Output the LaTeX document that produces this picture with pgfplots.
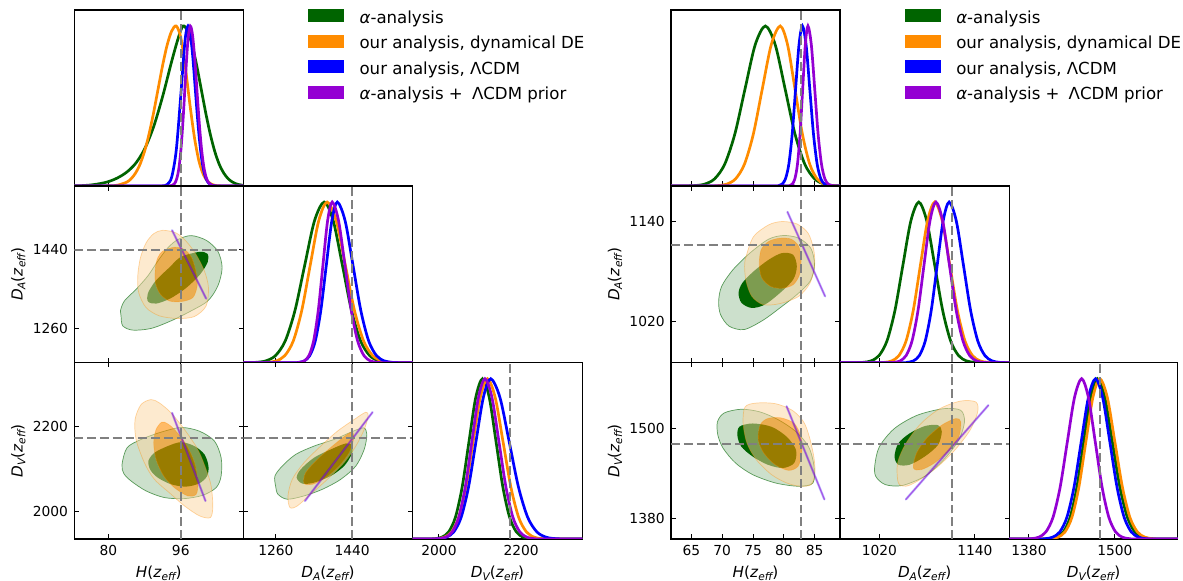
\documentclass[border=0pt]{standalone}
\usepackage{pgfplots}
\pgfplotsset{compat=1.18}
\usepackage{fontspec}
\setmainfont{DejaVu Sans}
\newcommand\f{\fontsize{6.9}{8.3}\selectfont}
\newcommand\fl{\fontsize{7.6}{9}\selectfont}
\newcommand\fleg{\fontsize{8.3}{10}\selectfont}
\newcommand\sub[1]{\raisebox{-1.4pt}{\fontsize{5.3}{6}\selectfont\itshape #1}}
\newcommand\Hlab{\textit{H}(\textit{z}\sub{eff})}
\newcommand\DAlab{\textit{D}\sub{A}(\textit{z}\sub{eff})}
\newcommand\DVlab{\textit{D}\sub{V}(\textit{z}\sub{eff})}
\definecolor{cgreen}{RGB}{0,100,0}
\definecolor{cgreenL}{RGB}{204,224,204}
\definecolor{corange}{RGB}{255,140,0}
\definecolor{corangeL}{RGB}{251,213,160}
\definecolor{cblue}{RGB}{0,0,255}
\definecolor{cpurple}{RGB}{148,0,211}
\definecolor{cgray}{RGB}{128,128,128}
\pgfplotsset{
 base/.style={scale only axis, anchor=south west,
   axis line style={black, line width=0.6pt}, tick align=inside, major tick length=2.4pt,
   every tick/.style={black, line width=0.5pt}, tick label style={font=\f}, label style={font=\fl},
   xticklabel style={inner sep=0pt, anchor=north, yshift=-2.8pt},
   yticklabel style={inner sep=0pt, anchor=east, xshift=-3pt},
   xlabel style={at={(axis description cs:0.5,0)}, anchor=base, yshift=-19.4pt},
   ylabel style={at={(axis description cs:-0.331,0.5)}, anchor=center},
   scaled ticks=false, clip=true},
 diag/.style={base, ymin=0, ymax=1.1, ytick=\empty, xtick pos=left},
 curve/.style={line width=1.35pt, smooth, forget plot, #1},
 ref/.style={cgray, line width=1.0pt, dash pattern=on 4.4pt off 2pt, forget plot},
 outerG/.style={fill=cgreenL, draw=cgreen, draw opacity=0.6, line width=0.35pt, smooth cycle, forget plot},
 innerG/.style={fill=cgreen, draw=none, smooth cycle, forget plot},
 outerO/.style={fill=corangeL, fill opacity=0.5, draw=corange, draw opacity=0.35, line width=0.35pt, smooth cycle, even odd rule, unbounded coords=jump, forget plot},
 innerO/.style={fill=corange, fill opacity=0.6, draw=none, smooth cycle, forget plot},
 lineB/.style={cblue, opacity=0.25, line width=1.2pt, line cap=round, forget plot},
 lineP/.style={cpurple, opacity=0.55, line width=0.6pt, line cap=round, forget plot},
 legaxis/.style={hide axis, scale only axis, anchor=south west, width=84.5pt, height=88pt,
   xmin=0, xmax=1, ymin=0, ymax=1, legend cell align=left,
   legend image code/.code={\fill[##1] (0pt,-1.7pt) rectangle (18pt,4.8pt);},
   legend style={at={(axis description cs:1.385,1.004)}, anchor=north west, draw=none, fill=none,
     inner sep=0pt, outer sep=0pt, font=\fleg, row sep=3.8pt, column sep=7.6pt,
     nodes={inner sep=0pt, text height=6.3pt, text depth=2pt}}},
}
\begin{document}
\begin{tikzpicture}
\path[use as bounding box] (0,0) rectangle (591.5pt,290.5pt);

%================ LEFT TRIANGLE =================
% legend holder
\begin{axis}[legaxis, at={(37.15pt,197.5pt)}]
\addlegendimage{fill=cgreen,draw=none}\addlegendentry{\textit{α}-analysis}
\addlegendimage{fill=corange,draw=none}\addlegendentry{our analysis, dynamical DE}
\addlegendimage{fill=cblue,draw=none}\addlegendentry{our analysis, ΛCDM}
\addlegendimage{fill=cpurple,draw=none}\addlegendentry{\textit{α}-analysis +\hspace{0.55em}ΛCDM prior}
\end{axis}
% L11
\begin{axis}[diag, at={(37.15pt,197.5pt)}, width=84.5pt, height=88pt,
  xmin=72.5, xmax=109.8, xtick={80,96}, xticklabels={}]
\addplot[curve=cgreen] coordinates {(72.5,0.001) (74,0.002) (76,0.006) (78,0.014) (80,0.027) (82,0.05) (84,0.085) (86,0.14) (88,0.23) (90,0.37) (92,0.56) (94,0.78) (95.5,0.93) (96.5,1) (97.5,0.969) (98.5,0.882) (99.5,0.755) (100.5,0.607) (101.5,0.458) (102.5,0.325) (103.5,0.216) (104.5,0.135) (105.5,0.080) (106.5,0.044) (107.5,0.023) (108.5,0.011) (109.8,0.004)};
\addplot[curve=corange] coordinates {(72.5,0) (80,0.001) (82,0.005) (84,0.023) (85,0.044) (86,0.080) (87,0.135) (88,0.216) (89,0.325) (90,0.458) (91,0.607) (92,0.755) (93,0.882) (94,0.969) (95,1) (96,0.929) (97,0.744) (98,0.513) (99,0.306) (100,0.157) (101,0.070) (102,0.027) (103,0.009) (104,0.002) (106,0) (109.8,0)};
\addplot[curve=cblue] coordinates {(72.5,0) (91,0) (92,0.001) (93,0.009) (94,0.056) (95,0.223) (96,0.566) (96.8,0.867) (97.2,0.965) (97.6,1) (98.1,0.952) (98.6,0.823) (99.1,0.644) (99.6,0.458) (100.1,0.295) (100.6,0.172) (101.1,0.091) (101.6,0.044) (102.1,0.019) (102.6,0.008) (103.5,0.001) (105,0) (109.8,0)};
\addplot[curve=cpurple] coordinates {(72.5,0) (93,0) (93.5,0.001) (94.1,0.004) (94.6,0.014) (95.1,0.044) (95.6,0.114) (96.1,0.249) (96.6,0.458) (97.1,0.707) (97.6,0.917) (98.1,1) (98.6,0.942) (99.1,0.788) (99.6,0.585) (100.1,0.386) (100.6,0.226) (101.1,0.117) (101.6,0.054) (102.1,0.022) (102.6,0.008) (103.1,0.0025) (104,0) (109.8,0)};
\addplot[ref] coordinates {(96,0) (96,1.1)};
\end{axis}

% L21
\begin{axis}[base, at={(37.15pt,109.15pt)}, width=84.5pt, height=88.35pt,
  xmin=72.5, xmax=109.8, ymin=1183, ymax=1583, xtick={80,96}, xticklabels={},
  ytick={1260,1440}, yticklabels={1260,1440}, ylabel={\DAlab}]
\addplot[outerG] coordinates {(82.81,1289.0) (83.18,1266.5) (85.39,1256.7) (89.44,1260.5) (93.86,1277.7) (98.28,1300.2) (101.97,1322.8) (104.18,1356.6) (105.13,1397.9) (104.18,1435.4) (101.60,1460.2) (98.28,1470.7) (95.34,1461.7) (93.13,1442.9) (90.92,1412.9) (88.71,1379.1) (86.13,1349.1) (83.55,1322.8) (82.67,1300.2)};
\addplot[innerG] coordinates {(101.89,1429.4) (101.94,1410.5) (100.21,1382.2) (97.18,1352.1) (93.66,1328.2) (90.58,1316.8) (88.78,1321.3) (88.74,1340.1) (90.46,1368.4) (93.49,1398.6) (96.02,1422.5) (100.09,1433.8)};
\addplot[outerO] coordinates {(92.02,1482.7) (94.97,1476.7) (97.18,1457.9) (99.39,1427.9) (101.23,1390.3) (102.11,1352.8) (101.60,1311.5) (99.02,1287.5) (95.34,1283.0) (91.28,1289.0) (88.34,1307.8) (86.72,1341.5) (86.50,1379.1) (87.09,1420.4) (88.34,1454.2) (90.03,1475.2)
 (nan,nan)
 (92.02,1435.4) (94.60,1444.4) (96.81,1439.1) (98.43,1420.4) (99.39,1386.6) (99.61,1356.6) (98.65,1330.3) (96.07,1321.3) (93.49,1322.8) (91.51,1337.8) (90.40,1364.1) (90.40,1397.9) (90.92,1420.4)};
\addplot[innerO] coordinates {(92.02,1435.4) (94.60,1444.4) (96.81,1439.1) (98.43,1420.4) (99.39,1386.6) (99.61,1356.6) (98.65,1330.3) (96.07,1321.3) (93.49,1322.8) (91.51,1337.8) (90.40,1364.1) (90.40,1397.9) (90.92,1420.4)};
\addplot[lineB] coordinates {(94.08,1482.7) (101.60,1328.0)};
\addplot[lineP] coordinates {(94.08,1482.7) (101.60,1328.0)};
\addplot[ref] coordinates {(96,1183) (96,1583)};
\addplot[ref] coordinates {(72.5,1439) (109.8,1439)};
\end{axis}

% L22
\begin{axis}[diag, at={(121.65pt,109.15pt)}, width=84.7pt, height=88.35pt,
  xmin=1183, xmax=1583, xtick={1260,1440}, xticklabels={}]
\addplot[curve=cgreen] coordinates {(1183,0) (1190,0.0003) (1213,0.0022) (1236,0.0111) (1259,0.0439) (1282,0.1353) (1305,0.3247) (1328,0.6065) (1351,0.8825) (1374,1) (1395.5,0.8825) (1417,0.6065) (1438.5,0.3247) (1460,0.1353) (1481.5,0.0439) (1503,0.0111) (1524.5,0.0022) (1546,0.0003) (1583,0)};
\addplot[curve=corange] coordinates {(1183,0) (1221,0.0003) (1241,0.0022) (1261,0.0111) (1281,0.0439) (1301,0.1353) (1321,0.3247) (1341,0.6065) (1361,0.8825) (1381,1) (1402.5,0.8825) (1424,0.6065) (1445.5,0.3247) (1467,0.1353) (1488.5,0.0439) (1510,0.0111) (1531.5,0.0022) (1553,0.0003) (1583,0)};
\addplot[curve=cblue] coordinates {(1183,0) (1301,0.0003) (1314,0.0022) (1327,0.0111) (1340,0.0439) (1353,0.1353) (1366,0.3247) (1379,0.6065) (1392,0.8825) (1405,1) (1423.5,0.8825) (1442,0.6065) (1460.5,0.3247) (1479,0.1353) (1497.5,0.0439) (1516,0.0111) (1534.5,0.0022) (1553,0.0003) (1583,0)};
\addplot[curve=cpurple] coordinates {(1183,0) (1305,0.0003) (1316,0.0022) (1327,0.0111) (1338,0.0439) (1349,0.1353) (1360,0.3247) (1371,0.6065) (1382,0.8825) (1393,1) (1408,0.8825) (1423,0.6065) (1438,0.3247) (1453,0.1353) (1468,0.0439) (1483,0.0111) (1498,0.0022) (1513,0.0003) (1583,0)};
\addplot[ref] coordinates {(1439,0) (1439,1.1)};
\end{axis}

% L31
\begin{axis}[base, at={(37.15pt,21pt)}, width=84.5pt, height=88.15pt,
  xmin=72.5, xmax=109.8, ymin=1936, ymax=2349, xtick={80,96}, xticklabels={80,96},
  ytick={2000,2200}, yticklabels={2000,2200}, xlabel={\Hlab}, ylabel={\DVlab}]
\addplot[outerG] coordinates {(83.03,2110.8) (84.14,2149.7) (87.23,2169.2) (91.65,2186.3) (96.07,2197.2) (100.12,2188.6) (103.44,2165.3) (104.91,2126.4) (104.91,2083.6) (103.81,2056.3) (100.86,2038.4) (96.81,2030.6) (92.39,2033.0) (88.34,2048.6) (85.02,2071.9) (83.40,2089.8)};
\addplot[innerG] coordinates {(88.85,2118.6) (90.18,2138.0) (93.13,2153.6) (96.07,2162.9) (99.02,2153.6) (101.23,2134.1) (102.11,2106.9) (101.82,2083.6) (100.12,2066.4) (97.18,2058.7) (93.86,2064.1) (90.92,2079.7) (89.30,2097.6)};
\addplot[outerO] coordinates {(89.44,2262.6) (87.23,2250.9) (85.91,2215.9) (86.13,2169.2) (87.97,2114.7) (90.18,2075.8) (93.86,2040.8) (96.81,2013.5) (100.12,1990.2) (102.56,1986.3) (103.07,2013.5) (102.70,2060.2) (101.60,2099.1) (99.76,2145.8) (96.81,2192.5) (93.86,2231.4) (91.28,2254.8)
 (nan,nan)
 (91.80,2209.6) (90.55,2192.5) (90.03,2161.4) (90.55,2122.5) (92.24,2083.6) (94.60,2056.3) (97.55,2036.9) (99.39,2040.8) (99.76,2068.0) (99.02,2114.7) (97.18,2157.5) (94.60,2192.5) (92.98,2206.5)};
\addplot[innerO] coordinates {(91.80,2209.6) (90.55,2192.5) (90.03,2161.4) (90.55,2122.5) (92.24,2083.6) (94.60,2056.3) (97.55,2036.9) (99.39,2040.8) (99.76,2068.0) (99.02,2114.7) (97.18,2157.5) (94.60,2192.5) (92.98,2206.5)};
\addplot[lineB] coordinates {(94.08,2231.4) (101.45,2025.2)};
\addplot[lineP] coordinates {(94.08,2231.4) (101.45,2025.2)};
\addplot[ref] coordinates {(96,1936) (96,2349)};
\addplot[ref] coordinates {(72.5,2172) (109.8,2172)};
\end{axis}

% L32
\begin{axis}[base, at={(121.65pt,21pt)}, width=84.7pt, height=88.15pt,
  xmin=1183, xmax=1583, ymin=1936, ymax=2349, xtick={1260,1440}, xticklabels={1260,1440},
  ytick={2000,2200}, yticklabels={}, xlabel={\DAlab}]
\addplot[outerG] coordinates {(1259.2,2060.2) (1257.7,2083.6) (1275.0,2106.9) (1306.6,2134.1) (1350.0,2153.6) (1397.4,2169.2) (1436.9,2186.3) (1466.9,2196.4) (1474.8,2180.8) (1468.5,2145.8) (1448.7,2106.9) (1413.2,2075.8) (1369.8,2052.4) (1326.4,2036.9) (1286.9,2029.1) (1264.8,2040.8)};
\addplot[innerG] coordinates {(1309.0,2079.7) (1318.5,2099.1) (1350.0,2126.4) (1389.5,2145.8) (1425.0,2159.8) (1440.8,2155.1) (1438.5,2134.1) (1421.1,2106.9) (1389.5,2083.6) (1350.0,2068.0) (1322.4,2065.7)};
\addplot[outerO] coordinates {(1293.2,2009.6) (1288.5,2036.9) (1298.7,2075.8) (1326.4,2114.7) (1365.8,2153.6) (1405.3,2188.6) (1444.8,2215.9) (1472.4,2233.0) (1477.9,2223.6) (1468.5,2192.5) (1448.7,2153.6) (1421.1,2114.7) (1381.6,2075.8) (1342.1,2040.8) (1310.6,2013.5)
 (nan,nan)
 (1326.4,2066.4) (1330.3,2091.3) (1357.9,2122.5) (1393.5,2153.6) (1425.0,2178.5) (1440.8,2186.3) (1443.2,2169.2) (1432.9,2138.0) (1409.3,2106.9) (1377.7,2079.7) (1346.1,2064.1)};
\addplot[innerO] coordinates {(1326.4,2066.4) (1330.3,2091.3) (1357.9,2122.5) (1393.5,2153.6) (1425.0,2178.5) (1440.8,2186.3) (1443.2,2169.2) (1432.9,2138.0) (1409.3,2106.9) (1377.7,2079.7) (1346.1,2064.1)};
\addplot[lineB] coordinates {(1328.7,2025.2) (1488.2,2233.0)};
\addplot[lineP] coordinates {(1328.7,2025.2) (1488.2,2233.0)};
\addplot[ref] coordinates {(1439,1936) (1439,2349)};
\addplot[ref] coordinates {(1183,2172) (1583,2172)};
\end{axis}

% L33
\begin{axis}[diag, at={(206.35pt,21pt)}, width=84.8pt, height=88.15pt,
  xmin=1936, xmax=2349, xtick={2000,2200}, xticklabels={2000,2200}, xlabel={\DVlab}]
\addplot[curve=cgreen] coordinates {(1936,0) (1974,0.0003) (1990.5,0.0022) (2007,0.0111) (2023.5,0.0439) (2040,0.1353) (2056.5,0.3247) (2073,0.6065) (2089.5,0.8825) (2106,1) (2122.5,0.8825) (2139,0.6065) (2155.5,0.3247) (2172,0.1353) (2188.5,0.0439) (2205,0.0111) (2221.5,0.0022) (2238,0.0003) (2349,0)};
\addplot[curve=corange] coordinates {(1936,0) (1978,0.0003) (1995.5,0.0022) (2013,0.0111) (2030.5,0.0439) (2048,0.1353) (2065.5,0.3247) (2083,0.6065) (2100.5,0.8825) (2118,1) (2137,0.8825) (2156,0.6065) (2175,0.3247) (2194,0.1353) (2213,0.0439) (2232,0.0111) (2251,0.0022) (2270,0.0003) (2349,0)};
\addplot[curve=cblue] coordinates {(1936,0) (1982,0.0003) (2000,0.0022) (2018,0.0111) (2036,0.0439) (2054,0.1353) (2072,0.3247) (2090,0.6065) (2108,0.8825) (2126,1) (2148.5,0.8825) (2171,0.6065) (2193.5,0.3247) (2216,0.1353) (2238.5,0.0439) (2261,0.0111) (2283.5,0.0022) (2306,0.0003) (2349,0)};
\addplot[curve=cpurple] coordinates {(1936,0) (1984,0.0003) (2000,0.0022) (2016,0.0111) (2032,0.0439) (2048,0.1353) (2064,0.3247) (2080,0.6065) (2096,0.8825) (2112,1) (2129,0.8825) (2146,0.6065) (2163,0.3247) (2180,0.1353) (2197,0.0439) (2214,0.0111) (2231,0.0022) (2248,0.0003) (2349,0)};
\addplot[ref] coordinates {(2172,0) (2172,1.1)};
\end{axis}

%================ RIGHT TRIANGLE =================
% legend holder
\begin{axis}[legaxis, at={(335.5pt,197.5pt)}]
\addlegendimage{fill=cgreen,draw=none}\addlegendentry{\textit{α}-analysis}
\addlegendimage{fill=corange,draw=none}\addlegendentry{our analysis, dynamical DE}
\addlegendimage{fill=cblue,draw=none}\addlegendentry{our analysis, ΛCDM}
\addlegendimage{fill=cpurple,draw=none}\addlegendentry{\textit{α}-analysis +\hspace{0.55em}ΛCDM prior}
\end{axis}
% R11
\begin{axis}[diag, at={(335.5pt,197.5pt)}, width=84.5pt, height=88pt,
  xmin=61.7, xmax=89.1, xtick={65,70,75,80,85}, xticklabels={}]
\addplot[curve=cgreen] coordinates {(61.7,0) (63.8,0.0003) (65.45,0.0022) (67.1,0.0111) (68.75,0.0439) (70.4,0.1353) (72.05,0.3247) (73.7,0.6065) (75.35,0.8825) (77,1) (78.6,0.8825) (80.2,0.6065) (81.8,0.3247) (83.4,0.1353) (85,0.0439) (86.6,0.0111) (88.2,0.0022) (89.1,0.0007)};
\addplot[curve=corange] coordinates {(61.7,0) (67.8,0.0003) (69.25,0.0022) (70.7,0.0111) (72.15,0.0439) (73.6,0.1353) (75.05,0.3247) (76.5,0.6065) (77.95,0.8825) (79.4,1) (80.6,0.8825) (81.8,0.6065) (83,0.3247) (84.2,0.1353) (85.4,0.0439) (86.6,0.0111) (87.8,0.0022) (89,0.0003) (89.1,0)};
\addplot[curve=cblue] coordinates {(61.7,0) (78.6,0.0003) (79.15,0.0022) (79.7,0.0111) (80.25,0.0439) (80.8,0.1353) (81.35,0.3247) (81.9,0.6065) (82.45,0.8825) (83,1) (83.6,0.8825) (84.2,0.6065) (84.8,0.3247) (85.4,0.1353) (86,0.0439) (86.6,0.0111) (87.2,0.0022) (87.8,0.0003) (89.1,0)};
\addplot[curve=cpurple] coordinates {(61.7,0) (80.5,0.0003) (80.925,0.0022) (81.35,0.0111) (81.775,0.0439) (82.2,0.1353) (82.625,0.3247) (83.05,0.6065) (83.475,0.8825) (83.9,1) (84.45,0.8825) (85,0.6065) (85.55,0.3247) (86.1,0.1353) (86.65,0.0439) (87.2,0.0111) (87.75,0.0022) (88.3,0.0003) (89.1,0)};
\addplot[ref] coordinates {(82.8,0) (82.8,1.1)};
\end{axis}

% R21
\begin{axis}[base, at={(335.5pt,109.15pt)}, width=84.5pt, height=88.35pt,
  xmin=61.7, xmax=89.1, ymin=970.5, ymax=1183.2, xtick={65,70,75,80,85}, xticklabels={},
  ytick={1020,1140}, yticklabels={1020,1140}, ylabel={\DAlab}]
\addplot[outerG] coordinates {(69.42,1044.4) (69.91,1062.4) (71.74,1082.4) (74.48,1102.4) (77.53,1119.2) (79.97,1123.6) (82.41,1120.4) (84.36,1108.4) (84.97,1088.4) (84.24,1068.4) (82.10,1052.4) (79.36,1036.4) (76.62,1021.6) (73.57,1010.4) (71.13,1014.4) (69.73,1028.4)};
\addplot[innerG] coordinates {(72.65,1054.4) (73.26,1066.4) (75.09,1080.4) (77.53,1094.4) (79.67,1102.4) (81.50,1100.4) (82.10,1086.4) (81.50,1070.4) (79.36,1054.4) (76.92,1040.4) (74.79,1036.4) (73.14,1042.4)};
\addplot[outerO] coordinates {(73.87,1098.4) (75.09,1122.4) (77.53,1136.4) (79.67,1140.4) (82.10,1137.6) (83.93,1126.4) (84.85,1106.4) (84.97,1086.4) (84.24,1066.4) (82.41,1050.4) (79.36,1041.6) (76.62,1040.4) (74.79,1050.4) (73.87,1068.4) (73.63,1086.4)
 (nan,nan)
 (76.31,1106.4) (77.53,1116.4) (79.36,1120.4) (81.19,1119.2) (82.41,1110.4) (82.78,1094.4) (82.53,1076.4) (81.50,1064.4) (79.67,1060.0) (77.84,1062.4) (76.43,1072.4) (76.01,1088.4)};
\addplot[innerO] coordinates {(76.31,1106.4) (77.53,1116.4) (79.36,1120.4) (81.19,1119.2) (82.41,1110.4) (82.78,1094.4) (82.53,1076.4) (81.50,1064.4) (79.67,1060.0) (77.84,1062.4) (76.43,1072.4) (76.01,1088.4)};
\addplot[lineB] coordinates {(80.58,1152.0) (86.68,1050.4)};
\addplot[lineP] coordinates {(80.58,1152.0) (86.68,1050.4)};
\addplot[ref] coordinates {(82.8,970.5) (82.8,1183.2)};
\addplot[ref] coordinates {(61.7,1111.6) (89.1,1111.6)};
\end{axis}

% R22
\begin{axis}[diag, at={(420pt,109.15pt)}, width=84.65pt, height=88.35pt,
  xmin=970.5, xmax=1183.2, xtick={1020,1140}, xticklabels={}]
\addplot[curve=cgreen] coordinates {(970.5,0) (989.5,0.0003) (999.5,0.0022) (1009.5,0.0111) (1019.5,0.0439) (1029.5,0.1353) (1039.5,0.3247) (1049.5,0.6065) (1059.5,0.8825) (1069.5,1) (1079.5,0.8825) (1089.5,0.6065) (1099.5,0.3247) (1109.5,0.1353) (1119.5,0.0439) (1129.5,0.0111) (1139.5,0.0022) (1149.5,0.0003) (1183.2,0)};
\addplot[curve=corange] coordinates {(970.5,0) (1017.5,0.0003) (1026.5,0.0022) (1035.5,0.0111) (1044.5,0.0439) (1053.5,0.1353) (1062.5,0.3247) (1071.5,0.6065) (1080.5,0.8825) (1089.5,1) (1099,0.8825) (1108.5,0.6065) (1118,0.3247) (1127.5,0.1353) (1137,0.0439) (1146.5,0.0111) (1156,0.0022) (1165.5,0.0003) (1183.2,0)};
\addplot[curve=cblue] coordinates {(970.5,0) (1047.6,0.0003) (1055.1,0.0022) (1062.6,0.0111) (1070.1,0.0439) (1077.6,0.1353) (1085.1,0.3247) (1092.6,0.6065) (1100.1,0.8825) (1107.6,1) (1116.6,0.8825) (1125.6,0.6065) (1134.6,0.3247) (1143.6,0.1353) (1152.6,0.0439) (1161.6,0.0111) (1170.6,0.0022) (1179.6,0.0003) (1183.2,0)};
\addplot[curve=cpurple] coordinates {(970.5,0) (1031,0.0003) (1038.5,0.0022) (1046,0.0111) (1053.5,0.0439) (1061,0.1353) (1068.5,0.3247) (1076,0.6065) (1083.5,0.8825) (1091,1) (1099.5,0.8825) (1108,0.6065) (1116.5,0.3247) (1125,0.1353) (1133.5,0.0439) (1142,0.0111) (1150.5,0.0022) (1159,0.0003) (1183.2,0)};
\addplot[ref] coordinates {(1111.6,0) (1111.6,1.1)};
\end{axis}

% R31
\begin{axis}[base, at={(335.5pt,21pt)}, width=84.5pt, height=88.15pt,
  xmin=61.7, xmax=89.1, ymin=1352.5, ymax=1588, xtick={65,70,75,80,85}, xticklabels={65,70,75,80,85},
  ytick={1380,1500}, yticklabels={1380,1500}, xlabel={\Hlab}, ylabel={\DVlab}]
\addplot[outerG] coordinates {(69.23,1509.0) (70.33,1520.9) (73.09,1525.8) (76.15,1522.2) (79.22,1511.2) (81.97,1495.8) (84.00,1475.9) (84.85,1451.7) (84.73,1427.4) (82.28,1423.0) (78.60,1427.4) (74.93,1438.5) (72.17,1453.9) (70.15,1473.7) (69.29,1491.4)};
\addplot[innerG] coordinates {(72.78,1502.4) (74.93,1506.8) (77.99,1502.4) (80.44,1489.2) (81.97,1471.5) (81.67,1453.9) (79.83,1447.3) (77.38,1451.7) (74.93,1462.7) (73.09,1476.0) (72.48,1490.0)};
\addplot[outerO] coordinates {(73.70,1528.8) (75.54,1534.1) (78.60,1533.3) (81.36,1524.4) (83.20,1509.0) (84.12,1489.2) (84.85,1462.7) (85.04,1440.7) (84.42,1425.2) (82.59,1423.0) (80.44,1427.4) (77.99,1438.5) (75.54,1458.3) (74.01,1480.3) (73.39,1506.8)
 (nan,nan)
 (76.15,1504.6) (77.38,1513.4) (79.52,1514.3) (81.67,1506.8) (82.77,1489.2) (82.89,1467.1) (82.28,1449.5) (80.75,1444.2) (78.60,1451.7) (76.76,1467.1) (75.85,1484.8)};
\addplot[innerO] coordinates {(76.15,1504.6) (77.38,1513.4) (79.52,1514.3) (81.67,1506.8) (82.77,1489.2) (82.89,1467.1) (82.28,1449.5) (80.75,1444.2) (78.60,1451.7) (76.76,1467.1) (75.85,1484.8)};
\addplot[lineB] coordinates {(80.44,1529.7) (86.57,1405.4)};
\addplot[lineP] coordinates {(80.44,1529.7) (86.57,1405.4)};
\addplot[ref] coordinates {(82.8,1352.5) (82.8,1588)};
\addplot[ref] coordinates {(61.7,1479.5) (89.1,1479.5)};
\end{axis}

% R32
\begin{axis}[base, at={(420pt,21pt)}, width=84.65pt, height=88.15pt,
  xmin=970.5, xmax=1183.2, ymin=1352.5, ymax=1588, xtick={1020,1140}, xticklabels={1020,1140},
  ytick={1380,1500}, yticklabels={}, xlabel={\DAlab}]
\addplot[outerG] coordinates {(1014.3,1451.7) (1020.0,1475.9) (1039.0,1500.2) (1067.5,1517.8) (1100.8,1526.6) (1122.2,1524.4) (1126.9,1509.0) (1119.8,1484.8) (1100.8,1458.3) (1077.0,1436.3) (1048.5,1423.9) (1027.2,1425.2) (1015.3,1436.3)};
\addplot[innerG] coordinates {(1039.0,1462.7) (1043.8,1480.3) (1058.0,1493.6) (1077.0,1503.3) (1093.6,1504.6) (1098.4,1495.8) (1093.6,1478.1) (1077.0,1462.7) (1058.0,1451.7) (1043.8,1451.7)};
\addplot[outerO] coordinates {(1043.8,1427.4) (1042.8,1453.9) (1053.3,1480.3) (1072.3,1506.8) (1096.0,1526.6) (1122.2,1536.8) (1141.2,1535.5) (1143.5,1522.2) (1134.0,1498.0) (1115.0,1471.5) (1091.3,1447.3) (1067.5,1429.6) (1053.3,1423.0)
 (nan,nan)
 (1062.8,1447.3) (1066.6,1467.1) (1079.4,1487.0) (1098.4,1504.6) (1116.0,1513.4) (1122.2,1509.0) (1119.8,1489.2) (1107.9,1471.5) (1088.9,1453.9) (1072.3,1445.1)};
\addplot[innerO] coordinates {(1062.8,1447.3) (1066.6,1467.1) (1079.4,1487.0) (1098.4,1504.6) (1116.0,1513.4) (1122.2,1509.0) (1119.8,1489.2) (1107.9,1471.5) (1088.9,1453.9) (1072.3,1445.1)};
\addplot[lineB] coordinates {(1053.3,1405.4) (1156.9,1531.1)};
\addplot[lineP] coordinates {(1053.3,1405.4) (1156.9,1531.1)};
\addplot[ref] coordinates {(1111.6,1352.5) (1111.6,1588)};
\addplot[ref] coordinates {(970.5,1479.5) (1183.2,1479.5)};
\end{axis}

% R33
\begin{axis}[diag, at={(504.65pt,21pt)}, width=84.25pt, height=88.15pt,
  xmin=1352.5, xmax=1588, xtick={1380,1500}, xticklabels={1380,1500}, xlabel={\DVlab}]
\addplot[curve=cgreen] coordinates {(1352.5,0) (1399.5,0.0003) (1409,0.0022) (1418.5,0.0111) (1428,0.0439) (1437.5,0.1353) (1447,0.3247) (1456.5,0.6065) (1466,0.8825) (1475.5,1) (1486,0.8825) (1496.5,0.6065) (1507,0.3247) (1517.5,0.1353) (1528,0.0439) (1538.5,0.0111) (1549,0.0022) (1559.5,0.0003) (1588,0)};
\addplot[curve=corange] coordinates {(1352.5,0) (1401,0.0003) (1410.75,0.0022) (1420.5,0.0111) (1430.25,0.0439) (1440,0.1353) (1449.75,0.3247) (1459.5,0.6065) (1469.25,0.8825) (1479,1) (1489.5,0.8825) (1500,0.6065) (1510.5,0.3247) (1521,0.1353) (1531.5,0.0439) (1542,0.0111) (1552.5,0.0022) (1563,0.0003) (1588,0)};
\addplot[curve=cblue] coordinates {(1352.5,0) (1393,0.0003) (1403,0.0022) (1413,0.0111) (1423,0.0439) (1433,0.1353) (1443,0.3247) (1453,0.6065) (1463,0.8825) (1473,1) (1483,0.8825) (1493,0.6065) (1503,0.3247) (1513,0.1353) (1523,0.0439) (1533,0.0111) (1543,0.0022) (1553,0.0003) (1588,0)};
\addplot[curve=cpurple] coordinates {(1352.5,0) (1373.6,0.0003) (1383.6,0.0022) (1393.6,0.0111) (1403.6,0.0439) (1413.6,0.1353) (1423.6,0.3247) (1433.6,0.6065) (1443.6,0.8825) (1453.6,1) (1463.1,0.8825) (1472.6,0.6065) (1482.1,0.3247) (1491.6,0.1353) (1501.1,0.0439) (1510.6,0.0111) (1520.1,0.0022) (1529.6,0.0003) (1588,0)};
\addplot[ref] coordinates {(1479.5,0) (1479.5,1.1)};
\end{axis}
\end{tikzpicture}
\end{document}
